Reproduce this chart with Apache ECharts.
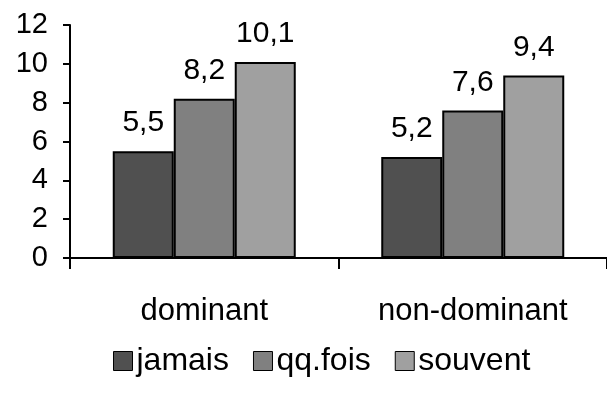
<!DOCTYPE html>
<html>
<head>
<meta charset="utf-8">
<script src="https://cdn.jsdelivr.net/npm/echarts@6/dist/echarts.min.js"></script>
<style>
html,body{margin:0;padding:0;background:#fff;}
#chart{width:607px;height:394px;}
</style>
</head>
<body>
<div id="chart"></div>
<script>
const categories = ['dominant', 'non-dominant'];
const seriesNames = ['jamais', 'qq.fois', 'souvent'];
const jamais = [5.5, 5.2];
const qqfois = [8.2, 7.6];
const souvent = [10.1, 9.4];
const yTicks = [0, 2, 4, 6, 8, 10, 12];

const FONT = '"Liberation Sans", Arial, sans-serif';
const colors = ['#505050', '#808080', '#a0a0a0'];
const values = [jamais, qqfois, souvent];

const chart = echarts.init(document.getElementById('chart'), null, {renderer: 'canvas'});
chart.setOption({
  animation: false,
  backgroundColor: '#ffffff',
  grid: {left: 70, top: 25, width: 544, height: 233, containLabel: false},
  legend: {
    data: seriesNames.map(n => ({name: n, icon: 'rect'})),
    left: 108,
    top: 340,
    itemWidth: 19,
    itemHeight: 19,
    itemGap: 24,
    itemStyle: {borderColor: '#000', borderWidth: 1},
    textStyle: {fontFamily: FONT, fontSize: 32, color: '#000', padding: [0, 0, 0, -1]}
  },
  xAxis: {
    type: 'category',
    data: categories,
    axisLine: {lineStyle: {color: '#000', width: 2}},
    axisTick: {show: true, length: 11, lineStyle: {color: '#000', width: 2}},
    axisLabel: {fontFamily: FONT, fontSize: 31, color: '#000', margin: 38}
  },
  yAxis: {
    type: 'value',
    min: yTicks[0],
    max: yTicks[yTicks.length - 1],
    interval: 2,
    splitLine: {show: false},
    axisLine: {show: true, lineStyle: {color: '#000', width: 2}},
    axisTick: {show: true, length: 7, lineStyle: {color: '#000', width: 2}},
    axisLabel: {fontFamily: FONT, fontSize: 29, color: '#000', margin: 22}
  },
  series: seriesNames.map((name, i) => ({
    name: name,
    type: 'bar',
    data: values[i],
    barWidth: 61,
    barGap: '0%',
    itemStyle: {color: colors[i], borderColor: '#000', borderWidth: 2},
    label: {
      show: true,
      position: 'top',
      distance: 13,
      fontFamily: FONT,
      fontSize: 30,
      color: '#000',
      formatter: p => String(p.value).replace('.', ',')
    }
  }))
});
</script>
</body>
</html>
